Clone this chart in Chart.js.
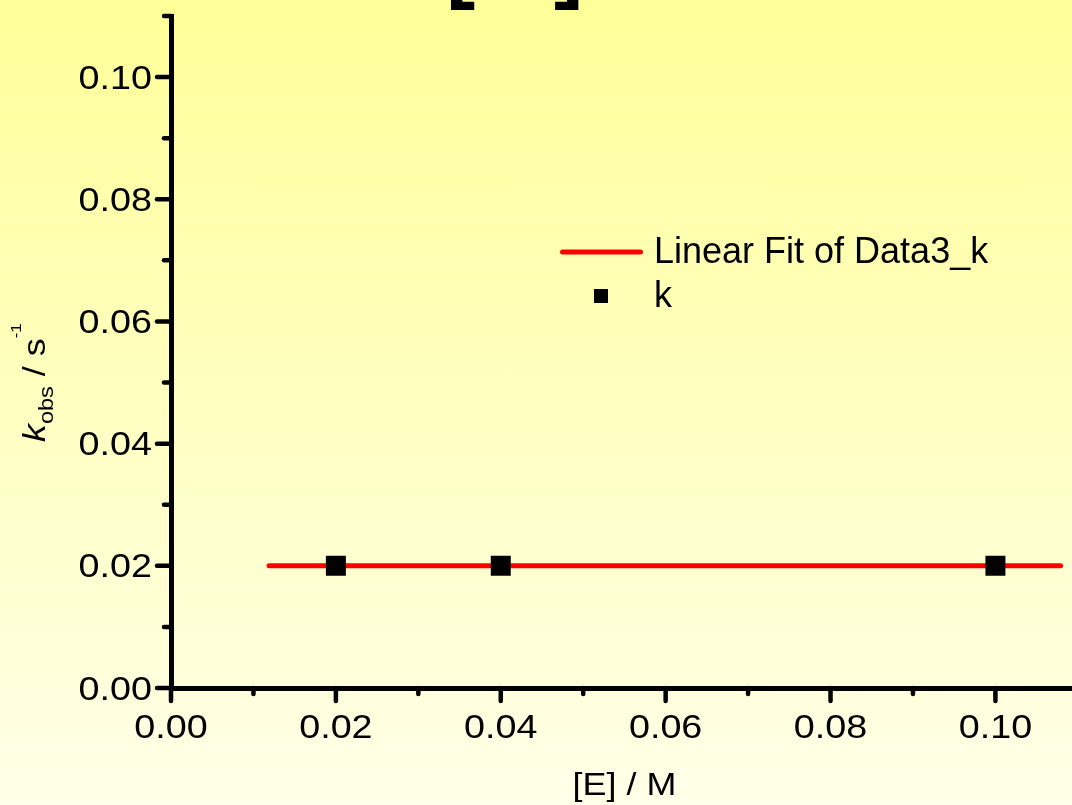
<!DOCTYPE html>
<html>
<head>
<meta charset="utf-8">
<title>kobs vs [E]</title>
<script src="https://cdn.jsdelivr.net/npm/chart.js@4/dist/chart.umd.min.js"></script>
<style>
    html, body {
        margin: 0;
        padding: 0;
        overflow: hidden;
        width: 1072px;
        height: 805px;
        background: linear-gradient(to bottom, #ffff99 0%, #ffffe8 100%);
    }
    #kChart {
        display: block;
    }
</style>
</head>
<body>
<canvas id="kChart" width="1092" height="805"></canvas>
<script>
// measured rate constants
const concE = [0.02, 0.04, 0.10];
const kObs = [0.02, 0.02, 0.02];

// linear fit (flat line) over the plotted range
const fitX = [0.0119, 0.1079];
const fitY = [0.02, 0.02];

// axis ticks
const xMajor = [0, 0.02, 0.04, 0.06, 0.08, 0.10];
const xMajorLabels = ['0.00', '0.02', '0.04', '0.06', '0.08', '0.10'];
const xMinor = [0.01, 0.03, 0.05, 0.07, 0.09, 0.11];
const yMajor = [0, 0.02, 0.04, 0.06, 0.08, 0.10];
const yMajorLabels = ['0.00', '0.02', '0.04', '0.06', '0.08', '0.10'];
const yMinor = [0.01, 0.03, 0.05, 0.07, 0.09, 0.11];

const legendFit = 'Linear Fit of Data3_k';
const legendPoints = 'k';

const FONT = "'Liberation Sans', Arial, sans-serif";

function wideText(ctx, text, x, y, sx, align) {
    ctx.save();
    ctx.translate(x, y);
    ctx.scale(sx, 1);
    ctx.textAlign = align;
    ctx.textBaseline = 'alphabetic';
    ctx.fillText(text, 0, 0);
    ctx.restore();
}

// ticks, tick labels, axis titles, legend and the clipped title brackets
const decorations = {
    id: 'decorations',
    afterDraw(chart) {
        const ctx = chart.ctx;
        const xs = chart.scales.x;
        const ys = chart.scales.y;
        const area = chart.chartArea;

        ctx.save();
        ctx.strokeStyle = '#000';
        ctx.fillStyle = '#000';
        ctx.lineWidth = 4.5;
        ctx.lineCap = 'round';

        const tick = (x1, y1, x2, y2) => {
            ctx.beginPath();
            ctx.moveTo(x1, y1);
            ctx.lineTo(x2, y2);
            ctx.stroke();
        };

        xMajor.forEach(v => {
            const px = xs.getPixelForValue(v);
            tick(px, area.bottom, px, area.bottom + 13);
        });
        xMinor.forEach(v => {
            const px = xs.getPixelForValue(v);
            tick(px, area.bottom, px, area.bottom + 6);
        });
        yMajor.forEach(v => {
            const py = ys.getPixelForValue(v);
            tick(area.left, py, area.left - 14, py);
        });
        yMinor.forEach(v => {
            const py = ys.getPixelForValue(v);
            tick(area.left, py, area.left - 7, py);
        });

        ctx.font = '32.5px ' + FONT;
        xMajor.forEach((v, i) => {
            wideText(ctx, xMajorLabels[i], xs.getPixelForValue(v), area.bottom + 50, 1.16, 'center');
        });
        yMajor.forEach((v, i) => {
            wideText(ctx, yMajorLabels[i], area.left - 19, ys.getPixelForValue(v) + 11.5, 1.16, 'right');
        });

        // x axis title
        ctx.font = '30.7px ' + FONT;
        wideText(ctx, '[E] / M', (area.left + area.right) / 2, 795, 1.17, 'center');

        // y axis title: k_obs / s^-1, read bottom to top
        ctx.save();
        ctx.translate(45, 442);
        ctx.rotate(-Math.PI / 2);
        ctx.scale(1.12, 1);
        ctx.textAlign = 'left';
        ctx.textBaseline = 'alphabetic';
        let pos = 0;
        const piece = (text, font, dy) => {
            ctx.font = font;
            ctx.fillText(text, pos, dy);
            pos += ctx.measureText(text).width;
        };
        piece('k', 'italic 32px ' + FONT, 0);
        piece('obs', '21px ' + FONT, 8);
        piece(' / s', '32px ' + FONT, 0);
        piece('-1', '15px ' + FONT, -24);
        ctx.restore();

        // legend
        ctx.strokeStyle = '#ff0000';
        ctx.lineWidth = 5;
        tick(562.5, 252, 640.5, 252);
        ctx.fillStyle = '#000';
        ctx.fillRect(594, 289, 14, 14);
        ctx.font = '36px ' + FONT;
        ctx.textAlign = 'left';
        ctx.textBaseline = 'alphabetic';
        ctx.fillText(legendFit, 654, 263);
        ctx.fillText(legendPoints, 654, 307);

        // bottom edge of the title brackets above the plot
        ctx.font = 'bold 88px ' + FONT;
        const mOpen = ctx.measureText('[');
        const mClose = ctx.measureText(']');
        ctx.fillText('[', 450 + mOpen.actualBoundingBoxLeft, 10 - mOpen.actualBoundingBoxDescent);
        ctx.textAlign = 'right';
        ctx.fillText(']', 579 - mClose.actualBoundingBoxRight + mClose.width, 10 - mClose.actualBoundingBoxDescent);
        ctx.restore();
    }
};

function drawChart() {
    const ctx = document.getElementById('kChart').getContext('2d');

    const points = concE.map((x, i) => ({ x: x, y: kObs[i] }));
    const fit = fitX.map((x, i) => ({ x: x, y: fitY[i] }));

    window.kChart = new Chart(ctx, {
        type: 'scatter',
        data: {
            datasets: [{
                label: legendPoints,
                data: points,
                pointStyle: 'rect',
                pointRadius: 14.14,
                pointHoverRadius: 14.14,
                backgroundColor: '#000',
                borderColor: '#000',
                borderWidth: 0
            }, {
                label: legendFit,
                data: fit,
                showLine: true,
                borderColor: '#ff0000',
                borderWidth: 5,
                borderCapStyle: 'round',
                pointRadius: 0,
                fill: false
            }]
        },
        options: {
            responsive: false,
            animation: false,
            devicePixelRatio: 1,
            layout: {
                padding: { top: 16, right: 12, bottom: 0, left: 0 }
            },
            plugins: {
                legend: { display: false },
                tooltip: { enabled: false }
            },
            scales: {
                x: {
                    type: 'linear',
                    min: 0,
                    max: 0.11,
                    ticks: { display: false },
                    grid: { display: false, drawTicks: false },
                    border: { display: true, color: '#000', width: 5 },
                    afterFit(scale) { scale.height = 117; }
                },
                y: {
                    type: 'linear',
                    min: 0,
                    max: 0.11,
                    ticks: { display: false },
                    grid: { display: false, drawTicks: false },
                    border: { display: true, color: '#000', width: 5 },
                    afterFit(scale) { scale.width = 171; }
                }
            }
        },
        plugins: [decorations]
    });
}

window.onload = drawChart;
</script>
</body>
</html>
